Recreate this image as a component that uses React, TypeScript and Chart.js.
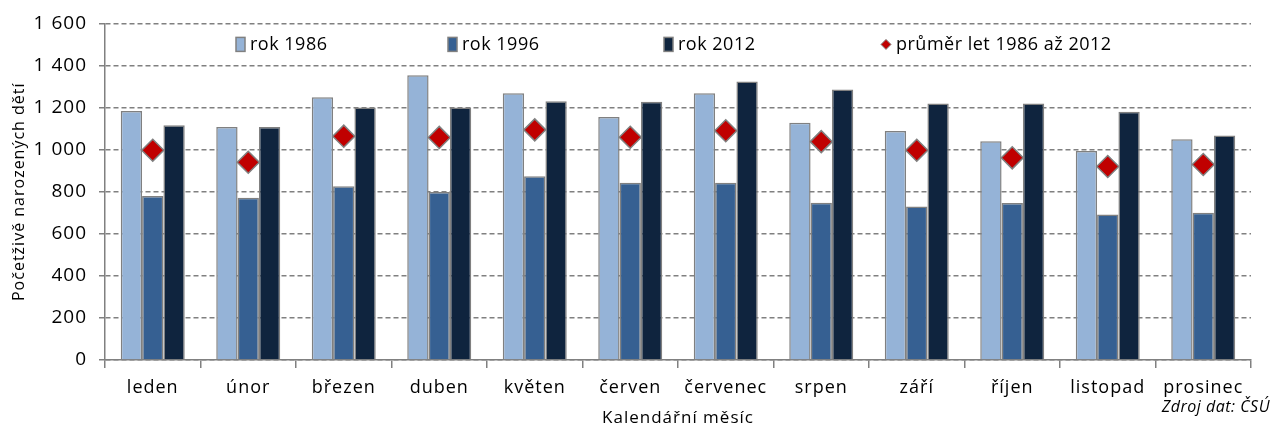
import React, { useEffect, useRef } from "react";
import { Chart, registerables } from "chart.js";

Chart.register(...registerables);

const months = ["leden", "únor", "březen", "duben", "květen", "červen", "červenec", "srpen", "září", "říjen", "listopad", "prosinec"];
const rok1986 = [1184, 1108, 1249, 1354, 1268, 1155, 1268, 1128, 1088, 1040, 993, 1049];
const rok1996 = [780, 771, 826, 798, 874, 842, 842, 748, 730, 746, 692, 700];
const rok2012 = [1116, 1107, 1200, 1200, 1230, 1228, 1324, 1286, 1219, 1219, 1180, 1067];
const prumer = [997, 940, 1064, 1058, 1094, 1059, 1090, 1038, 997, 961, 920, 929];
const seriesLabels = ["rok 1986", "rok 1996", "rok 2012", "průměr let 1986 až 2012"];
const yTicks = [0, 200, 400, 600, 800, 1000, 1200, 1400, 1600];
const yTitle = "Početživě narozených dětí";
const xTitle = "Kalendářní měsíc";
const sourceNote = "Zdroj dat: ČSÚ";

const FONT = "'Open Sans', 'DejaVu Sans', sans-serif";
const GRAY = "#808080";
const COLORS = ["#95B3D7", "#366092", "#0F243E"];
const RED = "#C00000";

const fmt = (v: number) =>
  v >= 1000 ? `${Math.floor(v / 1000)} ${String(v % 1000).padStart(3, "0")}` : String(v);

const spacingPlugin = {
  id: "spacing",
  beforeLayout(chart: any) {
    chart.ctx.letterSpacing = "1px";
  },
  beforeDraw(chart: any) {
    chart.ctx.letterSpacing = "1px";
  },
};

const legendPlugin = {
  id: "customLegend",
  afterDraw(chart: any) {
    const { ctx, chartArea } = chart;
    const offsets = [131, 343, 559, 781];
    const y = chartArea.top + 21;
    ctx.save();
    ctx.letterSpacing = "0.5px";
    ctx.font = `18px ${FONT}`;
    ctx.textBaseline = "middle";
    ctx.fillStyle = "#000";
    chart.data.datasets.forEach((ds: any, i: number) => {
      const x = chartArea.left + offsets[i];
      if (i < 3) {
        ctx.fillStyle = ds.backgroundColor;
        ctx.fillRect(x, y - 7, 9, 14);
        ctx.strokeStyle = GRAY;
        ctx.lineWidth = 1.5;
        ctx.strokeRect(x, y - 7, 9, 14);
        ctx.fillStyle = "#000";
        ctx.fillText(ds.label, x + 14, y);
      } else {
        ctx.beginPath();
        ctx.moveTo(x, y - 5);
        ctx.lineTo(x + 5, y);
        ctx.lineTo(x, y + 5);
        ctx.lineTo(x - 5, y);
        ctx.closePath();
        ctx.fillStyle = RED;
        ctx.fill();
        ctx.strokeStyle = GRAY;
        ctx.lineWidth = 1;
        ctx.stroke();
        ctx.fillStyle = "#000";
        ctx.fillText(ds.label, x + 10, y);
      }
    });
    ctx.font = `italic 16px ${FONT}`;
    ctx.textAlign = "right";
    ctx.fillText(sourceNote, chart.width - 10, chart.height - 23);
    ctx.restore();
  },
};

export default function App() {
  const ref = useRef<HTMLCanvasElement>(null);
  useEffect(() => {
    if (!ref.current) return;
    const chart = new Chart(ref.current, {
      type: "bar",
      data: {
        labels: months,
        datasets: [
          { label: seriesLabels[0], data: rok1986, backgroundColor: COLORS[0], borderColor: GRAY, borderWidth: 1.5, order: 1 },
          { label: seriesLabels[1], data: rok1996, backgroundColor: COLORS[1], borderColor: GRAY, borderWidth: 1.5, order: 1 },
          { label: seriesLabels[2], data: rok2012, backgroundColor: COLORS[2], borderColor: GRAY, borderWidth: 1.5, order: 1 },
          { type: "line", label: seriesLabels[3], data: prumer, showLine: false, pointStyle: "rectRot", pointRadius: 11, pointHoverRadius: 11, pointBackgroundColor: RED, pointBorderColor: GRAY, pointBorderWidth: 1.5, backgroundColor: RED, borderColor: GRAY, order: 0 } as any,
        ],
      },
      options: {
        animation: false,
        responsive: true,
        maintainAspectRatio: false,
        layout: { padding: { left: 0, right: 29, top: 23, bottom: 0 } },
        datasets: { bar: { barPercentage: 1, categoryPercentage: 0.67 } },
        plugins: { legend: { display: false }, tooltip: { enabled: false } },
        scales: {
          x: {
            grid: { offset: true, drawOnChartArea: false, tickLength: 8, color: GRAY, lineWidth: 1.5 },
            border: { color: GRAY, width: 1.5 },
            ticks: { color: "#000", font: { family: FONT, size: 18 }, padding: 9 },
            title: { display: true, text: xTitle, color: "#000", font: { family: FONT, size: 17 }, padding: { bottom: 2, top: 0 } },
            afterFit: (s: any) => { s.height = 70; },
          },
          y: {
            min: 0,
            max: 1600,
            afterBuildTicks: (s: any) => { s.ticks = yTicks.map((v) => ({ value: v })); },
            grid: { color: GRAY, lineWidth: 1.5, tickLength: 6, tickBorderDash: [], tickColor: GRAY },
            border: { color: GRAY, width: 1.5, dash: [5, 3] },
            ticks: { color: "#000", font: { family: FONT, size: 19 }, padding: 12, callback: (v: any) => fmt(Number(v)) },
            title: { display: true, text: yTitle, color: "#000", font: { family: FONT, size: 16 }, padding: { top: 10, bottom: 0 } },
            afterFit: (s: any) => { s.width = 105; },
          },
        },
      },
      plugins: [spacingPlugin, legendPlugin],
    });
    return () => chart.destroy();
  }, []);
  return (
    <div style={{ position: "fixed", left: 0, top: 0, width: 1280, height: 430 }}>
      <canvas ref={ref} />
    </div>
  );
}
